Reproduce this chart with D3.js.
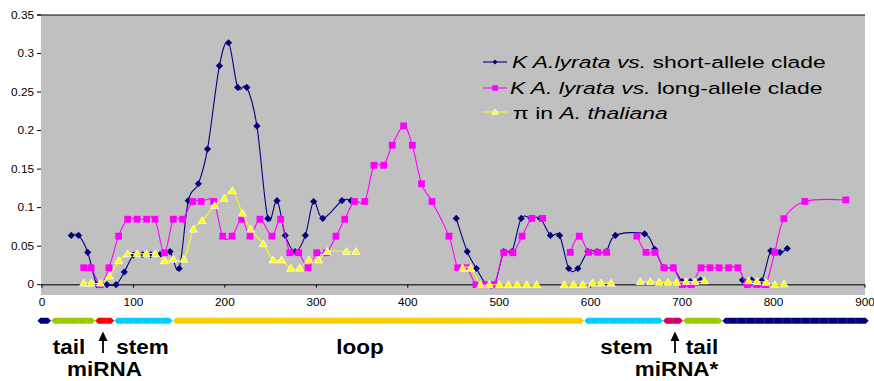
<!DOCTYPE html>
<html>
<head>
<meta charset="utf-8">
<script src="https://cdn.jsdelivr.net/npm/d3@7"></script>
<style>
  body { margin: 0; background: #fff; }
  text { font-family: "Liberation Sans", Arial, sans-serif; }
</style>
</head>
<body>
<script>
// chart data, null = gap in the series
var shortX = [32, 40, 50, 60, 71, 81, 90, 100, 110, 119, 129, 140, 150, 160, 171, 181, 194, 204, 214, 224, 235, 247, 257, 266, 277, 288, 297, 307, 328, 338,
  null, 453, 465, 475, 486, 495, 505, 514, 524, 535, 545, 556, 566, 576, 586, 597, 607, 617, 627, 659, 670, 680, 690, 700, 709, 720,
  null, 766, 776, 787, 797, 807, 815];
var shortY = [0.064, 0.064, 0.042, 0, 0, 0, 0.0165, 0.0385, 0.039, 0.039, 0.039, 0.043, 0.021, 0.109, 0.131, 0.176, 0.284, 0.314, 0.256, 0.256, 0.206, 0.086, 0.109, 0.064, 0.043, 0.064, 0.108, 0.086, 0.109, 0.109,
  null, 0.086, 0.043, 0.021, 0, 0, 0.043, 0.043, 0.086, 0.086, 0.086, 0.064, 0.064, 0.021, 0.021, 0.043, 0.043, 0.043, 0.064, 0.066, 0.046, 0.022, 0.022, 0.004, 0.004, 0.006,
  null, 0.006, 0.006, 0.005, 0.044, 0.042, 0.047];

var longX = [45.6, 53.6, 63.8, 73.3, 83.8, 93.7, 104, 114.5, 123.6, 133.8, 143.6, 153.8, 164.8, 174, 187.7, 197.6, 207.8, 218.4, 227.5, 238.4, 251.5, 261, 271, 280.7, 291, 300.4, 311, 321.5, 331, 341.6, 353, 363, 373.7, 383, 395.5, 405, 415, 426.5, 445, 454.6, 464.4, 474.6, 483.4, 494.5, 505, 515, 525, 535.7, 547.5,
  null, 577.7, 587.5, 597.8, 607.7, 617.5,
  null, 650.5, 660.5, 670.4, 680.2, 690.4, 700.2, 710, 720.7, 730.5, 740.4, 751, 761, 771.3, 781.5, 791.4, 801.3, 811.3, 834.2, 879];
var longY = [0.022, 0.022, 0, 0.022, 0.063, 0.085, 0.085, 0.085, 0.085, 0.0415, 0.085, 0.085, 0.108, 0.108, 0.108, 0.063, 0.063, 0.085, 0.063, 0.085, 0.063, 0.085, 0.0415, 0.0415, 0.022, 0.0415, 0.0415, 0.063, 0.085, 0.108, 0.108, 0.155, 0.155, 0.181, 0.206, 0.181, 0.131, 0.108, 0.063, 0.022, 0.022, 0, 0, 0, 0.0415, 0.0415, 0.063, 0.086, 0.086,
  null, 0.042, 0.063, 0.042, 0.042, 0.042,
  null, 0.063, 0.042, 0.042, 0.022, 0.022, 0, 0, 0.022, 0.022, 0.022, 0.022, 0.022, 0, 0, 0, 0.042, 0.0857, 0.108, 0.11];

var piX = [45.6, 54, 63.8, 73.8, 84, 93.5, 104, 114, 124, 134, 143.5, 155.2, 165.5, 175.2, 188.7, 199.2, 208.3, 219.2, 228.4, 242, 252.6, 262, 272, 281.8, 292, 302.6, 312, 333, 343.4,
  null, 460, 468.8, 479.7, 489, 500, 510, 519.8, 530, 541,
  null, 571, 581.3, 591.3, 602, 611.3, 622.3,
  null, 654.3, 665.3, 675, 684.6, 694, 704.5, 714, 724.3,
  null, 772.8, 782, 792, 801.3, 811.5];
var piY = [0.002, 0.002, 0.002, 0.011, 0.031, 0.04, 0.04, 0.04, 0.04, 0.031, 0.033, 0.033, 0.072, 0.083, 0.1025, 0.112, 0.122, 0.0926, 0.072, 0.053, 0.032, 0.032, 0.0213, 0.0213, 0.032, 0.032, 0.043, 0.043, 0.043,
  null, 0.0213, 0.0213, 0, 0, 0, 0, 0, 0, 0,
  null, 0, 0, 0, 0.002, 0.002, 0.002,
  null, 0.004, 0.004, 0.003, 0.003, 0.003, 0.004, 0.004, 0.005,
  null, 0.005, 0.004, 0.003, 0, 0.001];

var yTicks = [0, 0.05, 0.1, 0.15, 0.2, 0.25, 0.3, 0.35];
var xTicks = [0, 100, 200, 300, 400, 500, 600, 700, 800, 900];

// precursor regions along the sequence (start, end in bp)
var regionNames = ["flank", "tail", "miRNA", "stem", "loop", "stem", "miRNA*", "tail", "flank"];
var regionStart = [-5, 10, 58, 79, 143, 593, 679, 701, 744];
var regionEnd = [10, 58, 79, 143, 593, 679, 701, 744, 904];
var regionColor = ["#000080", "#99cc00", "#ff0000", "#00ccff", "#ffcc00", "#00ccff", "#cc0066", "#99cc00", "#000080"];

var svgWidth = 874;
var svgHeight = 381;

var svg = d3.select("body").append("svg")
  .attr("width", svgWidth)
  .attr("height", svgHeight);

var x = d3.scaleLinear().domain([0, 900]).range([42, 865]);
var y = d3.scaleLinear().domain([0, 0.35]).range([284.7, 15]);

// helper: horizontally stretched text (the original figure is widened)
function stretchText(g, tx, ty, sx, str) {
  return g.append("g")
    .attr("transform", `translate(${tx},${ty}) scale(${sx},1)`)
    .append("text")
    .text(str);
}

// plot area
svg.append("rect")
  .attr("x", 41).attr("y", 15)
  .attr("width", 865 - 41).attr("height", 295 - 15)
  .attr("fill", "#c0c0c0");

svg.append("line")
  .attr("x1", 37).attr("x2", 865)
  .attr("y1", y(0.35)).attr("y2", y(0.35))
  .attr("stroke", "#000").attr("stroke-width", 1);

svg.append("line")
  .attr("x1", 41).attr("x2", 865)
  .attr("y1", y(0)).attr("y2", y(0))
  .attr("stroke", "#3a3a3a").attr("stroke-width", 1.5);

// y axis ticks + labels
yTicks.forEach(function(v) {
  svg.append("line")
    .attr("x1", 37).attr("x2", 41)
    .attr("y1", y(v)).attr("y2", y(v))
    .attr("stroke", "#000");
  stretchText(svg, 34, y(v) + 3.6, 1.18, v === 0 ? "0" : String(v))
    .attr("text-anchor", "end")
    .attr("font-size", "10px")
    .attr("fill", "#000");
});

// x axis ticks + labels
xTicks.forEach(function(v) {
  svg.append("line")
    .attr("x1", x(v)).attr("x2", x(v))
    .attr("y1", y(0)).attr("y2", y(0) + 3)
    .attr("stroke", "#000");
  stretchText(svg, x(v), 306, 1.18, String(v))
    .attr("text-anchor", "middle")
    .attr("font-size", "10px")
    .attr("fill", "#000");
});

// markers
var markerPath = {
  diamond: function(r) { return `M0,${-r}L${r},0L0,${r}L${-r},0Z`; },
  square: function(r) { return `M${-r},${-r}H${r}V${r}H${-r}Z`; },
  triangle: function(r) { return `M0,${-r * 1.1}L${r * 1.1},${r * 0.8}L${-r * 1.1},${r * 0.8}Z`; }
};

var lineGen = d3.line()
  .defined(d => d[1] != null)
  .x(d => x(d[0]))
  .y(d => y(d[1]))
  .curve(d3.curveCardinal.tension(0));

function drawSeries(xs, ys, color, shape, r, markStroke) {
  var pts = xs.map((v, i) => [v, ys[i]]);
  var g = svg.append("g");
  g.append("path")
    .datum(pts)
    .attr("d", lineGen)
    .attr("fill", "none")
    .attr("stroke", color)
    .attr("stroke-width", 1.1);
  g.selectAll("path.mk")
    .data(pts.filter(d => d[1] != null))
    .enter()
    .append("path")
    .attr("class", "mk")
    .attr("transform", d => `translate(${x(d[0])},${y(d[1])})`)
    .attr("d", markerPath[shape](r))
    .attr("fill", color)
    .attr("stroke", markStroke || "none")
    .attr("stroke-width", 0.8);
}

drawSeries(shortX, shortY, "#000080", "diamond", 3.6);
drawSeries(longX, longY, "#ff00ff", "square", 3.4);
drawSeries(piX, piY, "#ffff00", "triangle", 3.6, "#ffffff");

// legend
var legendItems = [
  { color: "#000080", shape: "diamond", r: 2.4, stroke: null, ly: 62, ty: 68, tx: 512,
    parts: [["K A.lyrata vs.", "italic"], [" short-allele clade", "normal"]] },
  { color: "#ff00ff", shape: "square", r: 2.8, stroke: null, ly: 88, ty: 94, tx: 510,
    parts: [["K A. lyrata vs.", "italic"], [" long-allele clade", "normal"]] },
  { color: "#ffff00", shape: "triangle", r: 2.8, stroke: "#fff", ly: 112, ty: 119, tx: 513,
    parts: [["\u03c0 in ", "normal"], ["A. thaliana", "italic"]] }
];

legendItems.forEach(function(it) {
  svg.append("line")
    .attr("x1", 483).attr("x2", 507)
    .attr("y1", it.ly).attr("y2", it.ly)
    .attr("stroke", it.color).attr("stroke-width", 1.1);
  svg.append("path")
    .attr("transform", `translate(495,${it.ly})`)
    .attr("d", markerPath[it.shape](it.r))
    .attr("fill", it.color)
    .attr("stroke", it.stroke || "none")
    .attr("stroke-width", 0.8);
  var t = stretchText(svg, it.tx, it.ty, 1.39, "")
    .attr("font-size", "16.5px")
    .attr("fill", "#000");
  it.parts.forEach(function(p) {
    t.append("tspan").attr("font-style", p[1]).text(p[0]);
  });
});

// precursor bar
var barY = 320.7;
var barH = 3;
regionNames.forEach(function(name, i) {
  var x0 = x(regionStart[i]), x1 = x(regionEnd[i]);
  svg.append("polygon")
    .attr("points", [[x0, barY], [x0 + 3, barY - barH], [x1 - 3, barY - barH], [x1, barY], [x1 - 3, barY + barH], [x0 + 3, barY + barH]].join(" "))
    .attr("fill", regionColor[i]);
});
d3.range(10, 900, 10).forEach(function(v) {
  svg.append("line")
    .attr("x1", x(v)).attr("x2", x(v))
    .attr("y1", barY - barH).attr("y2", barY + barH)
    .attr("stroke", "#fff").attr("stroke-opacity", 0.2).attr("stroke-width", 0.8);
});

// region labels
var labelText = ["tail", "stem", "loop", "stem", "tail", "miRNA", "miRNA*"];
var labelX = [69, 142.5, 360, 626.5, 702, 104.5, 676.5];
var labelY = [354, 354, 354, 354, 354, 376, 376];
labelText.forEach(function(s, i) {
  stretchText(svg, labelX[i], labelY[i], 1.07, s)
    .attr("text-anchor", "middle")
    .attr("font-size", "21px")
    .attr("font-weight", "bold")
    .attr("fill", "#000");
});

// arrows pointing at miRNA / miRNA*
[103, 675].forEach(function(ax) {
  svg.append("line")
    .attr("x1", ax).attr("x2", ax)
    .attr("y1", 353).attr("y2", 339)
    .attr("stroke", "#000").attr("stroke-width", 1.8);
  svg.append("path")
    .attr("d", `M${ax},331.5L${ax + 4.5},341L${ax - 4.5},341Z`)
    .attr("fill", "#000");
});
</script>
</body>
</html>
